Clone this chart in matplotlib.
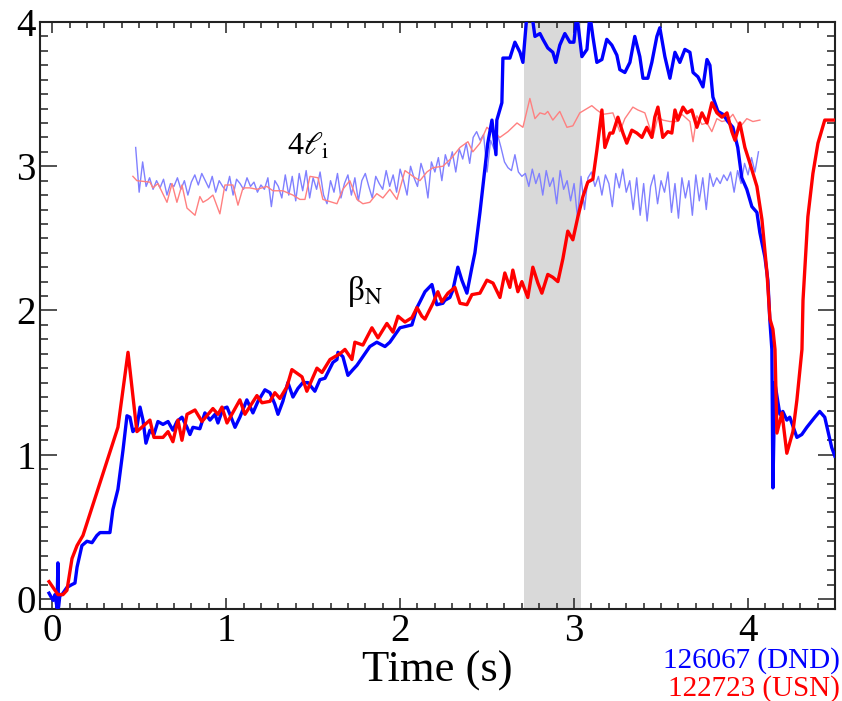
import numpy as np
import matplotlib
matplotlib.use("Agg")
import matplotlib.pyplot as plt
from matplotlib.ticker import MultipleLocator

plt.rcParams["font.family"] = ["Liberation Serif", "DejaVu Serif"]
plt.rcParams["mathtext.fontset"] = "stix"

# beta_N, shot 126067 (DND): (time s, value)
bn_dnd = [
    (-0.018, 0.04), (0.005, -0.01), (0.016, 0.03), (0.028, -0.06), (0.033, 0.25),
    (0.036, -0.06), (0.045, 0.03), (0.056, 0.03), (0.085, 0.08), (0.114, 0.10),
    (0.131, 0.11), (0.143, 0.22), (0.171, 0.37), (0.200, 0.40), (0.229, 0.39),
    (0.257, 0.44), (0.275, 0.46), (0.303, 0.46), (0.332, 0.46), (0.349, 0.62),
    (0.378, 0.76), (0.407, 1.03), (0.430, 1.27), (0.447, 1.26), (0.464, 1.16),
    (0.487, 1.19), (0.505, 1.33), (0.522, 1.24), (0.539, 1.08), (0.562, 1.17),
    (0.585, 1.14), (0.608, 1.23), (0.637, 1.21), (0.666, 1.23), (0.694, 1.17),
    (0.717, 1.23), (0.746, 1.26), (0.775, 1.19), (0.792, 1.14), (0.809, 1.19),
    (0.849, 1.18), (0.878, 1.29), (0.907, 1.24), (0.936, 1.28), (0.953, 1.22),
    (0.982, 1.32), (1.005, 1.33), (1.022, 1.28), (1.051, 1.19), (1.079, 1.26),
    (1.119, 1.38), (1.154, 1.29), (1.183, 1.37), (1.223, 1.45), (1.252, 1.43),
    (1.280, 1.35), (1.298, 1.28), (1.326, 1.37), (1.355, 1.50), (1.384, 1.40),
    (1.413, 1.46), (1.441, 1.50), (1.470, 1.50), (1.510, 1.44), (1.539, 1.52),
    (1.568, 1.53), (1.597, 1.60), (1.614, 1.64), (1.637, 1.66), (1.643, 1.71),
    (1.671, 1.68), (1.700, 1.55), (1.729, 1.59), (1.752, 1.62), (1.786, 1.68),
    (1.826, 1.75), (1.866, 1.78), (1.913, 1.75), (1.941, 1.78), (1.999, 1.88),
    (2.068, 1.90), (2.097, 2.02), (2.114, 2.06), (2.143, 2.13), (2.183, 2.18),
    (2.211, 2.04), (2.246, 2.05), (2.257, 2.07), (2.286, 2.09), (2.303, 2.14),
    (2.332, 2.30), (2.355, 2.21), (2.384, 2.12), (2.413, 2.30), (2.430, 2.40),
    (2.459, 2.68), (2.476, 2.86), (2.504, 3.16), (2.528, 3.32), (2.551, 3.08),
    (2.556, 3.32), (2.585, 3.44), (2.591, 3.75), (2.631, 3.75), (2.660, 3.86),
    (2.689, 3.79), (2.706, 3.72), (2.729, 4.05), (2.758, 4.05), (2.775, 3.90),
    (2.804, 3.92), (2.821, 3.88), (2.849, 3.82), (2.878, 3.79), (2.895, 3.72),
    (2.918, 3.84), (2.947, 3.92), (2.976, 3.86), (2.999, 3.86), (3.016, 4.05),
    (3.045, 3.76), (3.074, 3.81), (3.091, 4.05), (3.108, 3.90), (3.131, 3.72),
    (3.160, 3.74), (3.188, 3.88), (3.217, 3.84), (3.246, 3.77), (3.263, 3.67),
    (3.292, 3.65), (3.321, 3.72), (3.349, 3.90), (3.378, 3.76), (3.396, 3.61),
    (3.424, 3.61), (3.447, 3.72), (3.476, 3.90), (3.493, 3.96), (3.522, 3.76),
    (3.551, 3.61), (3.580, 3.79), (3.608, 3.72), (3.637, 3.81), (3.666, 3.79),
    (3.684, 3.65), (3.712, 3.62), (3.741, 3.55), (3.764, 3.74), (3.781, 3.70),
    (3.798, 3.48), (3.827, 3.38), (3.856, 3.36), (3.884, 3.31), (3.913, 3.27),
    (3.941, 3.13), (3.964, 2.92), (3.993, 2.84), (4.022, 2.72), (4.051, 2.68),
    (4.068, 2.54), (4.097, 2.37), (4.114, 2.21), (4.125, 1.94), (4.137, 1.73),
    (4.143, 0.77), (4.154, 1.50), (4.183, 1.28), (4.200, 1.30), (4.223, 1.24),
    (4.240, 1.26), (4.281, 1.12), (4.309, 1.14), (4.338, 1.19), (4.384, 1.26),
    (4.412, 1.30), (4.441, 1.26), (4.481, 1.05), (4.499, 0.99),
]

# beta_N, shot 122723 (USN)
bn_usn = [
    (-0.018, 0.12), (0.033, 0.03), (0.062, 0.03), (0.085, 0.06), (0.114, 0.28),
    (0.143, 0.37), (0.177, 0.44), (0.378, 1.19), (0.436, 1.71), (0.487, 1.16),
    (0.562, 1.24), (0.585, 1.12), (0.637, 1.12), (0.666, 1.16), (0.694, 1.09),
    (0.723, 1.24), (0.746, 1.10), (0.775, 1.28), (0.821, 1.31), (0.861, 1.23),
    (0.924, 1.32), (0.953, 1.28), (0.976, 1.33), (1.005, 1.22), (1.079, 1.38),
    (1.108, 1.28), (1.177, 1.41), (1.206, 1.36), (1.252, 1.37), (1.280, 1.43),
    (1.309, 1.39), (1.349, 1.47), (1.378, 1.59), (1.436, 1.54), (1.464, 1.44),
    (1.522, 1.60), (1.551, 1.57), (1.597, 1.66), (1.654, 1.70), (1.683, 1.73),
    (1.723, 1.66), (1.740, 1.78), (1.786, 1.76), (1.838, 1.88), (1.873, 1.81),
    (1.924, 1.91), (1.959, 1.85), (1.988, 1.96), (2.028, 1.92), (2.068, 1.95),
    (2.097, 2.02), (2.125, 1.96), (2.143, 1.94), (2.189, 2.05), (2.217, 2.13),
    (2.240, 2.06), (2.275, 2.12), (2.315, 2.16), (2.344, 2.05), (2.384, 2.04),
    (2.413, 2.11), (2.459, 2.12), (2.499, 2.21), (2.534, 2.19), (2.574, 2.09),
    (2.602, 2.26), (2.631, 2.16), (2.648, 2.28), (2.677, 2.13), (2.700, 2.20),
    (2.734, 2.09), (2.763, 2.30), (2.792, 2.19), (2.815, 2.12), (2.849, 2.25),
    (2.878, 2.23), (2.907, 2.20), (2.936, 2.36), (2.964, 2.55), (2.993, 2.49),
    (3.022, 2.65), (3.051, 2.79), (3.079, 2.89), (3.108, 2.91), (3.131, 3.11),
    (3.160, 3.39), (3.177, 3.13), (3.206, 3.23), (3.223, 3.23), (3.252, 3.34),
    (3.281, 3.23), (3.303, 3.16), (3.332, 3.25), (3.361, 3.23), (3.390, 3.20),
    (3.418, 3.27), (3.447, 3.20), (3.464, 3.34), (3.482, 3.41), (3.510, 3.20),
    (3.539, 3.24), (3.562, 3.23), (3.580, 3.39), (3.597, 3.32), (3.626, 3.41),
    (3.649, 3.37), (3.677, 3.39), (3.706, 3.27), (3.735, 3.37), (3.764, 3.30),
    (3.792, 3.44), (3.821, 3.37), (3.850, 3.34), (3.879, 3.37), (3.907, 3.24),
    (3.925, 3.18), (3.953, 3.30), (3.982, 3.13), (4.011, 3.02), (4.051, 2.86),
    (4.080, 2.63), (4.109, 2.26), (4.126, 1.94), (4.143, 1.87), (4.155, 1.73),
    (4.166, 1.15), (4.195, 1.29), (4.223, 1.01), (4.258, 1.16), (4.281, 1.38),
    (4.310, 1.73), (4.316, 2.07), (4.344, 2.65), (4.373, 2.95), (4.402, 3.16),
    (4.441, 3.32), (4.499, 3.32),
]

# 4 x internal inductance, shot 126067, sampled every 0.02 s from 0.48 s to 4.06 s
li_dnd_start, li_dnd_end = 0.48, 4.06
li_dnd = [
    3.13, 2.82, 3.03, 2.86, 2.92, 2.84, 2.90, 2.85, 2.91, 2.80,
    2.88, 2.86, 2.92, 2.84, 2.90, 2.80, 2.89, 2.94, 2.87, 2.95,
    2.90, 2.85, 2.93, 2.82, 2.90, 2.86, 2.83, 2.93, 2.80, 2.91,
    2.88, 2.84, 2.92, 2.86, 2.89, 2.82, 2.87, 2.84, 2.92, 2.72,
    2.90, 2.86, 2.78, 2.94, 2.80, 2.93, 2.76, 2.95, 2.83, 2.97,
    2.78, 2.92, 2.84, 2.96, 2.80, 2.74, 2.90, 2.82, 2.95, 2.78,
    2.88, 2.94, 2.80, 2.92, 2.76, 2.90, 2.95, 2.86, 2.78, 2.93,
    2.88, 2.84, 2.97, 2.86, 2.94, 2.82, 2.98, 2.90, 2.80, 3.00,
    2.92, 2.86, 3.02, 2.94, 2.78, 3.03, 2.96, 3.06, 2.90, 3.08,
    3.00, 3.10, 2.96, 3.12, 3.05, 3.16, 3.02, 3.20, 3.24, 3.18,
    3.22, 2.96, 3.18, 3.12, 3.22, 3.13, 3.03, 2.99, 2.97, 3.08,
    2.96, 2.93, 2.95, 2.86, 2.98, 2.88, 2.95, 2.80, 2.97, 2.86,
    2.92, 2.74, 2.97, 2.84, 2.90, 2.76, 2.88, 2.64, 2.93, 2.70,
    2.92, 2.96, 2.86, 2.93, 2.80, 2.94, 2.88, 2.72, 2.95, 2.85,
    2.98, 2.82, 2.90, 2.70, 2.92, 2.66, 2.88, 2.62, 2.86, 2.94,
    2.74, 2.90, 2.82, 2.96, 2.68, 2.88, 2.64, 2.92, 2.78, 2.90,
    2.66, 2.94, 2.76, 2.92, 2.70, 2.95, 2.86, 2.92, 2.88, 2.94,
    2.90, 2.96, 2.82, 2.97, 2.88, 3.02, 2.94, 3.06, 2.96, 3.10,
]

# 4 x internal inductance, shot 122723
li_usn = [
    (0.464, 2.93), (0.487, 2.90), (0.562, 2.89), (0.579, 2.85), (0.608, 2.88),
    (0.660, 2.75), (0.689, 2.88), (0.717, 2.75), (0.746, 2.87), (0.775, 2.71),
    (0.821, 2.66), (0.849, 2.79), (0.867, 2.75), (0.895, 2.77), (0.924, 2.80),
    (0.964, 2.67), (0.993, 2.87), (1.039, 2.87), (1.068, 2.73), (1.097, 2.85),
    (1.137, 2.85), (1.177, 2.84), (1.234, 2.86), (1.269, 2.83), (1.326, 2.83),
    (1.384, 2.80), (1.424, 2.77), (1.453, 2.77), (1.482, 2.93), (1.528, 2.92),
    (1.556, 2.77), (1.637, 2.74), (1.671, 2.84), (1.711, 2.90), (1.752, 2.77),
    (1.786, 2.74), (1.826, 2.75), (1.866, 2.81), (1.901, 2.78), (1.941, 2.84),
    (1.982, 2.77), (2.028, 2.97), (2.074, 2.93), (2.114, 2.90), (2.154, 2.96),
    (2.189, 2.99), (2.246, 3.00), (2.298, 3.06), (2.344, 3.13), (2.390, 3.17),
    (2.418, 3.10), (2.459, 3.16), (2.499, 3.27), (2.528, 3.24), (2.574, 3.20),
    (2.620, 3.24), (2.672, 3.30), (2.706, 3.27), (2.746, 3.47), (2.775, 3.33),
    (2.804, 3.37), (2.832, 3.36), (2.849, 3.38), (2.878, 3.32), (2.918, 3.38),
    (2.959, 3.27), (2.993, 3.28), (3.033, 3.37), (3.102, 3.42), (3.131, 3.39),
    (3.166, 3.36), (3.223, 3.37), (3.263, 3.24), (3.292, 3.33), (3.338, 3.41),
    (3.367, 3.39), (3.407, 3.37), (3.453, 3.20), (3.482, 3.34), (3.510, 3.32),
    (3.551, 3.31), (3.591, 3.31), (3.620, 3.36), (3.666, 3.31), (3.684, 3.17),
    (3.706, 3.35), (3.735, 3.29), (3.764, 3.30), (3.792, 3.24), (3.821, 3.33),
    (3.850, 3.31), (3.884, 3.32), (3.913, 3.36), (3.953, 3.27), (3.993, 3.33),
    (4.028, 3.31), (4.068, 3.32),
]

# shaded time window (s)
window = (2.711, 3.039)

fig = plt.figure(figsize=(8.42, 7.01), dpi=100)
ax = fig.add_axes([0.0475, 0.1312, 0.9442, 0.8374])

ax.axvspan(window[0], window[1], color="#d9d9d9", lw=0, zorder=0)

t_li = np.linspace(li_dnd_start, li_dnd_end, len(li_dnd))
ax.plot(t_li, li_dnd, color="#8080ff", lw=1.0, zorder=2)
t, v = np.array(li_usn).T
ax.plot(t, v, color="#ff8080", lw=1.0, zorder=2)

t, v = np.array(bn_dnd).T
ax.plot(t, v, color="#0000ff", lw=2.4, zorder=3)
t, v = np.array(bn_usn).T
ax.plot(t, v, color="#ff0000", lw=2.4, zorder=4)

ax.text(1.349, 3.078, r"4$\ell_{\mathrm{i}}$", fontsize=23, ha="left", va="baseline")
ax.text(1.694, 2.073, r"β$_{\mathrm{N}}$", fontsize=24, ha="left", va="baseline")

ax.set_xlim(-0.07, 4.5)
ax.set_ylim(-0.07, 4.0)
ax.xaxis.set_major_locator(MultipleLocator(1))
ax.xaxis.set_minor_locator(MultipleLocator(0.1))
ax.yaxis.set_major_locator(MultipleLocator(1))
ax.yaxis.set_minor_locator(MultipleLocator(0.1))

ax.tick_params(which="both", direction="in", top=True, right=True, width=1.1,
               labelsize=28, color="#222222")
ax.tick_params(axis="x", which="major", length=8, pad=3)
ax.tick_params(axis="x", which="minor", length=4)
ax.tick_params(axis="y", which="major", length=12, pad=3)
ax.tick_params(axis="y", which="minor", length=6)
for s in ax.spines.values():
    s.set_linewidth(1.5)
    s.set_color("#222222")

ax.set_xlabel("Time (s)", fontsize=32, labelpad=0)

fig.text(0.998, 0.047, "126067 (DND)", color="#0000ff", fontsize=21, ha="right", va="baseline")
fig.text(0.998, 0.007, "122723 (USN)", color="#ff0000", fontsize=21, ha="right", va="baseline")

fig.savefig("out.png", dpi=100)
